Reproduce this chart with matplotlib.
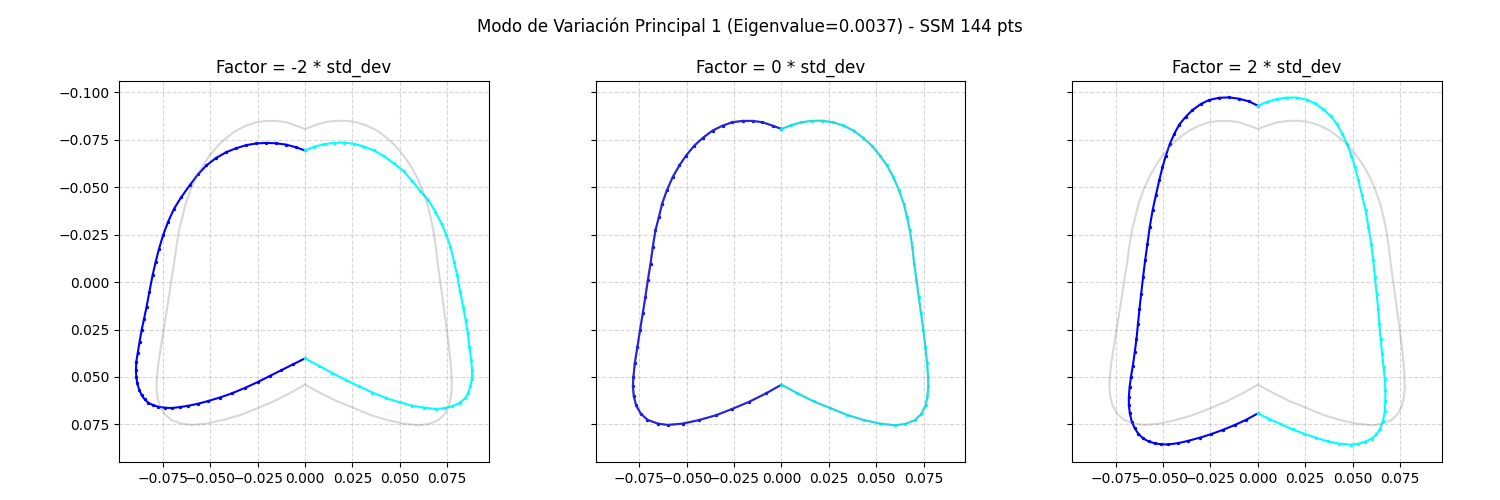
import matplotlib
matplotlib.use("Agg")
import matplotlib.pyplot as plt

title = "Modo de Variación Principal 1 (Eigenvalue=0.0037) - SSM 144 pts"
factors = [-2, 0, 2]

# ---- mean shape (factor 0) ----
mean_left = [
    (0.0, -0.0808), (-0.0047, -0.0825), (-0.0100, -0.0843), (-0.0152, -0.0850),
    (-0.0205, -0.0850), (-0.0258, -0.0843), (-0.0310, -0.0825), (-0.0363, -0.0799),
    (-0.0415, -0.0760), (-0.0459, -0.0720), (-0.0503, -0.0667), (-0.0538, -0.0615),
    (-0.0573, -0.0554), (-0.0604, -0.0484), (-0.0629, -0.0413), (-0.0646, -0.0343),
    (-0.0664, -0.0273), (-0.0678, -0.0186), (-0.0690, -0.0098), (-0.0704, -0.0011),
    (-0.0717, 0.0077), (-0.0731, 0.0165), (-0.0745, 0.0252), (-0.0759, 0.0340),
    (-0.0773, 0.0427), (-0.0780, 0.0498), (-0.0783, 0.0550), (-0.0778, 0.0603),
    (-0.0766, 0.0650), (-0.0741, 0.0694), (-0.0706, 0.0726), (-0.0652, 0.0746),
    (-0.0599, 0.0753), (-0.0520, 0.0746), (-0.0433, 0.0727), (-0.0345, 0.0702),
    (-0.0258, 0.0668), (-0.0170, 0.0631), (-0.0082, 0.0587), (0.0, 0.0541),
]
mean_right = [
    (0.0, -0.0808), (0.0050, -0.0826), (0.0105, -0.0843), (0.0160, -0.0850),
    (0.0215, -0.0851), (0.0270, -0.0843), (0.0325, -0.0826), (0.0380, -0.0799),
    (0.0432, -0.0760), (0.0476, -0.0720), (0.0520, -0.0667), (0.0556, -0.0615),
    (0.0590, -0.0554), (0.0620, -0.0484), (0.0645, -0.0413), (0.0662, -0.0343),
    (0.0677, -0.0273), (0.0690, -0.0186), (0.0700, -0.0098), (0.0712, -0.0011),
    (0.0724, 0.0077), (0.0736, 0.0165), (0.0748, 0.0252), (0.0759, 0.0340),
    (0.0768, 0.0427), (0.0773, 0.0498), (0.0774, 0.0550), (0.0770, 0.0603),
    (0.0760, 0.0650), (0.0737, 0.0696), (0.0703, 0.0728), (0.0652, 0.0748),
    (0.0599, 0.0755), (0.0520, 0.0746), (0.0433, 0.0727), (0.0345, 0.0700),
    (0.0258, 0.0664), (0.0170, 0.0629), (0.0082, 0.0585), (0.0, 0.0541),
]

# ---- factor -2 ----
m2_left = [
    (0.0, -0.0694), (-0.0047, -0.0711), (-0.0100, -0.0725), (-0.0152, -0.0732),
    (-0.0205, -0.0734), (-0.0258, -0.0731), (-0.0310, -0.0722), (-0.0363, -0.0706),
    (-0.0415, -0.0685), (-0.0468, -0.0655), (-0.0520, -0.0615), (-0.0564, -0.0568),
    (-0.0608, -0.0510), (-0.0652, -0.0448), (-0.0690, -0.0387), (-0.0722, -0.0317),
    (-0.0748, -0.0247), (-0.0769, -0.0177), (-0.0787, -0.0107), (-0.0803, -0.0037),
    (-0.0820, 0.0050), (-0.0835, 0.0130), (-0.0848, 0.0192), (-0.0861, 0.0253),
    (-0.0872, 0.0315), (-0.0882, 0.0376), (-0.0889, 0.0420), (-0.0891, 0.0464),
    (-0.0889, 0.0500), (-0.0884, 0.0534), (-0.0874, 0.0567), (-0.0861, 0.0596),
    (-0.0845, 0.0618), (-0.0826, 0.0636), (-0.0800, 0.0649), (-0.0774, 0.0657),
    (-0.0740, 0.0662), (-0.0703, 0.0664), (-0.0660, 0.0659), (-0.0616, 0.0652),
    (-0.0563, 0.0641), (-0.0511, 0.0627), (-0.0450, 0.0609), (-0.0387, 0.0587),
    (-0.0317, 0.0558), (-0.0247, 0.0526), (-0.0186, 0.0495), (-0.0124, 0.0464),
    (-0.0062, 0.0433), (0.0, 0.0402),
]
m2_right = [
    (0.0, -0.0694), (0.0047, -0.0713), (0.0100, -0.0727), (0.0152, -0.0734),
    (0.0205, -0.0736), (0.0258, -0.0729), (0.0310, -0.0715), (0.0363, -0.0695),
    (0.0415, -0.0665), (0.0468, -0.0626), (0.0520, -0.0585), (0.0564, -0.0535),
    (0.0608, -0.0480), (0.0650, -0.0433), (0.0688, -0.0370), (0.0720, -0.0308),
    (0.0746, -0.0247), (0.0767, -0.0186), (0.0786, -0.0107), (0.0802, -0.0037),
    (0.0818, 0.0050), (0.0834, 0.0130), (0.0847, 0.0200), (0.0858, 0.0270),
    (0.0867, 0.0340), (0.0876, 0.0410), (0.0881, 0.0462), (0.0880, 0.0510),
    (0.0872, 0.0550), (0.0860, 0.0585), (0.0846, 0.0611), (0.0815, 0.0637),
    (0.0776, 0.0655), (0.0735, 0.0665), (0.0689, 0.0669), (0.0630, 0.0662),
    (0.0566, 0.0652), (0.0500, 0.0634), (0.0426, 0.0611), (0.0356, 0.0582),
    (0.0286, 0.0550), (0.0215, 0.0516), (0.0145, 0.0480), (0.0072, 0.0440),
    (0.0, 0.0402),
]

# ---- factor +2 ----
p2_left = [
    (0.0, -0.0930), (-0.0047, -0.0953), (-0.0100, -0.0967), (-0.0152, -0.0974),
    (-0.0205, -0.0972), (-0.0258, -0.0960), (-0.0301, -0.0939), (-0.0345, -0.0907),
    (-0.0380, -0.0872), (-0.0415, -0.0830), (-0.0441, -0.0781), (-0.0464, -0.0729),
    (-0.0485, -0.0667), (-0.0503, -0.0606), (-0.0520, -0.0536), (-0.0538, -0.0457),
    (-0.0555, -0.0378), (-0.0570, -0.0291), (-0.0582, -0.0203), (-0.0594, -0.0116),
    (-0.0605, -0.0028), (-0.0615, 0.0060), (-0.0624, 0.0140), (-0.0632, 0.0220),
    (-0.0640, 0.0300), (-0.0649, 0.0370), (-0.0659, 0.0440), (-0.0669, 0.0499),
    (-0.0676, 0.0552), (-0.0680, 0.0605), (-0.0680, 0.0650), (-0.0675, 0.0692),
    (-0.0665, 0.0735), (-0.0649, 0.0771), (-0.0630, 0.0800), (-0.0605, 0.0824),
    (-0.0576, 0.0840), (-0.0544, 0.0850), (-0.0510, 0.0855), (-0.0474, 0.0856),
    (-0.0420, 0.0849), (-0.0368, 0.0837), (-0.0305, 0.0820), (-0.0245, 0.0801),
    (-0.0185, 0.0779), (-0.0123, 0.0754), (-0.0060, 0.0725), (0.0, 0.0692),
]
p2_right = [
    (0.0, -0.0930), (0.0047, -0.0950), (0.0100, -0.0965), (0.0152, -0.0973),
    (0.0205, -0.0973), (0.0258, -0.0962), (0.0301, -0.0942), (0.0345, -0.0912),
    (0.0383, -0.0876), (0.0418, -0.0832), (0.0445, -0.0781), (0.0470, -0.0729),
    (0.0493, -0.0667), (0.0512, -0.0606), (0.0530, -0.0536), (0.0549, -0.0457),
    (0.0568, -0.0378), (0.0583, -0.0291), (0.0597, -0.0203), (0.0608, -0.0116),
    (0.0617, -0.0028), (0.0626, 0.0060), (0.0634, 0.0140), (0.0640, 0.0220),
    (0.0647, 0.0300), (0.0655, 0.0380), (0.0663, 0.0450), (0.0669, 0.0510),
    (0.0672, 0.0570), (0.0672, 0.0625), (0.0669, 0.0680), (0.0660, 0.0730),
    (0.0645, 0.0772), (0.0625, 0.0803), (0.0600, 0.0825), (0.0566, 0.0841),
    (0.0530, 0.0852), (0.0490, 0.0857), (0.0430, 0.0852), (0.0370, 0.0840),
    (0.0305, 0.0820), (0.0245, 0.0800), (0.0185, 0.0777), (0.0123, 0.0750),
    (0.0060, 0.0722), (0.0, 0.0692),
]

shapes = {-2: (m2_left, m2_right), 0: (mean_left, mean_right), 2: (p2_left, p2_right)}

xticks = [-0.075, -0.05, -0.025, 0.0, 0.025, 0.05, 0.075]
yticks = [-0.1, -0.075, -0.05, -0.025, 0.0, 0.025, 0.05, 0.075]

fig, axes = plt.subplots(1, 3, figsize=(15, 5), dpi=100, sharey=True)
fig.subplots_adjust(left=0.0795, right=0.961, top=0.8386, bottom=0.0754, wspace=0.29)
fig.suptitle(title, fontsize=12, y=0.965)

mean_pts = mean_left[::-1] + mean_right
mean_x = [p[0] for p in mean_pts]
mean_y = [p[1] for p in mean_pts]

for ax, f in zip(axes, factors):
    left, right = shapes[f]
    ax.plot([p[0] for p in left], [p[1] for p in left], color="blue", lw=1.5,
            marker="o", markersize=1.4, zorder=2)
    ax.plot([p[0] for p in right], [p[1] for p in right], color="cyan", lw=1.5,
            marker="o", markersize=1.4, zorder=2)
    ax.plot(mean_x, mean_y, color="gray", lw=1.5, alpha=0.3, zorder=3)
    ax.set_title(f"Factor = {f} * std_dev", fontsize=12)
    ax.grid(True, linestyle="--", alpha=0.5)
    ax.set_xticks(xticks)
    ax.set_yticks(yticks)
    ax.set_xlim(-0.0979, 0.0968)

axes[0].set_ylim(0.0950, -0.1062)

fig.savefig("out.png", dpi=100)
